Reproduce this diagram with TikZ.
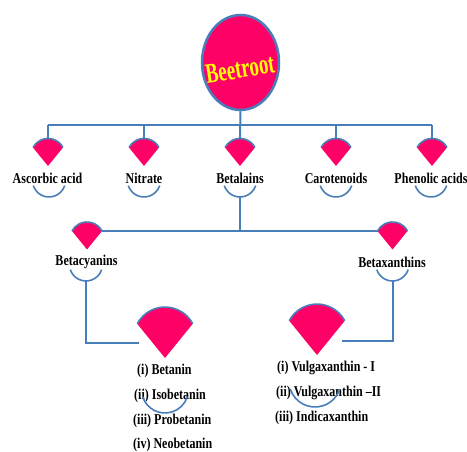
\documentclass[tikz,border=0pt]{standalone}
\usepackage{fontspec}
\setmainfont{Liberation Serif}
\newfontfamily\condfont[FakeStretch=0.8]{Liberation Serif}
\newfontfamily\titlefont[FakeStretch=0.68]{Liberation Serif}
\usetikzlibrary{calc,shapes.geometric}
\definecolor{pinkw}{HTML}{FF0066}
\definecolor{lineblue}{HTML}{4A7EBB}
\definecolor{beetyellow}{HTML}{FFFF00}
\tikzset{
  conn/.style={draw=lineblue, line width=2pt},
  lbl/.style={font=\condfont\bfseries\fontsize{15}{15}\selectfont, inner sep=0pt, text=black},
  pics/wedge/.style={code={
    \fill[pinkw] (0,0) -- (15*#1,18.5*#1) arc[start angle=28,end angle=152,radius=17*#1] -- cycle;
    \draw[lineblue, line width=1.6pt] (15*#1,18.5*#1) arc[start angle=28,end angle=152,radius=17*#1];
    \coordinate (-top) at (0,27.5*#1);
    \coordinate (-l) at (-15*#1,18.5*#1);
    \coordinate (-r) at (15*#1,18.5*#1);
  }},
  pics/smile/.style={code={
    \draw[lineblue, line width=1.6pt] (198:#1) arc[start angle=198,end angle=342,radius=#1];
    \coordinate (-bot) at (0,-#1);
  }}
}
\begin{document}
\begin{tikzpicture}[x=1pt,y=1pt]
\useasboundingbox (0,0) rectangle (467,-452);

% root
\node[ellipse, draw=lineblue, line width=2.5pt, fill=pinkw, minimum width=77pt, minimum height=95pt, inner sep=0pt] (root) at (240.5,-62.5) {};
\node[rotate=9, font=\titlefont\bfseries\fontsize{28}{28}\selectfont, text=beetyellow, inner sep=0pt] (rootlbl) at (240,-69) {Beetroot};

% first level wedges
\pic (w1) at (48,-166) {wedge=1};
\pic (w2) at (144,-166) {wedge=1};
\pic (w3) at (240,-166) {wedge=1};
\pic (w4) at (336,-166) {wedge=1};
\pic (w5) at (432,-166) {wedge=1};

\coordinate (busL) at (48,-125.5);
\coordinate (busR) at (432,-125.5);
\draw[conn] (busL) -- (busR);
\draw[conn] (root.south) -- (w3-top);
\foreach \w in {w1,w2,w4,w5} \draw[conn] (\w-top) -- (\w-top |- busL);

\node[lbl] (asc) at (47.5,-178) {Ascorbic acid};
\node[lbl] (nit) at (144,-178) {Nitrate};
\node[lbl] (bet) at (240,-178) {Betalains};
\node[lbl] (car) at (336,-178) {Carotenoids};
\node[lbl] (phe) at (431,-178) {Phenolic acids};

\pic (s1) at (49,-180.5) {smile=16.5};
\pic (s2) at (144,-180.5) {smile=16.5};
\pic (s3) at (240,-180.5) {smile=16.5};
\pic (s4) at (336,-180.5) {smile=16.5};
\pic (s5) at (431,-180.5) {smile=16.5};

% second level
\pic (b1) at (87,-249.5) {wedge=1};
\pic (b2) at (392.5,-249.5) {wedge=1};
\draw[conn] (b1-r) -- (b2-l);
\draw[conn] (s3-bot) -- (s3-bot |- b1-r);

\node[lbl] (bcy) at (86.5,-262) {Betacyanins};
\node[lbl] (bxa) at (392,-262) {Betaxanthins};
\pic (s6) at (86,-264.5) {smile=16.5};
\pic (s7) at (392.5,-264.5) {smile=16.5};

% third level
\pic (c1) at (165,-358) {wedge=1.85};
\pic (c2) at (317,-355) {wedge=1.85};
\coordinate (e1) at (139,-343);
\coordinate (e2) at (342,-341);
\draw[conn] (s6-bot) |- (e1);
\draw[conn] (s7-bot) |- (e2);

\node[lbl, anchor=west] (l1) at (137,-371) {(i) Betanin};
\node[lbl, anchor=west] (l2) at (134,-396) {(ii) Isobetanin};
\node[lbl, anchor=west] (l3) at (133,-421) {(iii) Probetanin};
\node[lbl, anchor=west] (l4) at (133,-445) {(iv) Neobetanin};
\pic (s8) at (165,-389.5) {smile=23.5};

\node[lbl, anchor=west] (r1) at (277,-368) {(i) Vulgaxanthin - I};
\node[lbl, anchor=west] (r2) at (276,-393) {(ii) Vulgaxanthin –II};
\node[lbl, anchor=west] (r3) at (275,-418) {(iii) Indicaxanthin};
\pic (s9) at (315,-381) {smile=26};
\end{tikzpicture}
\end{document}
